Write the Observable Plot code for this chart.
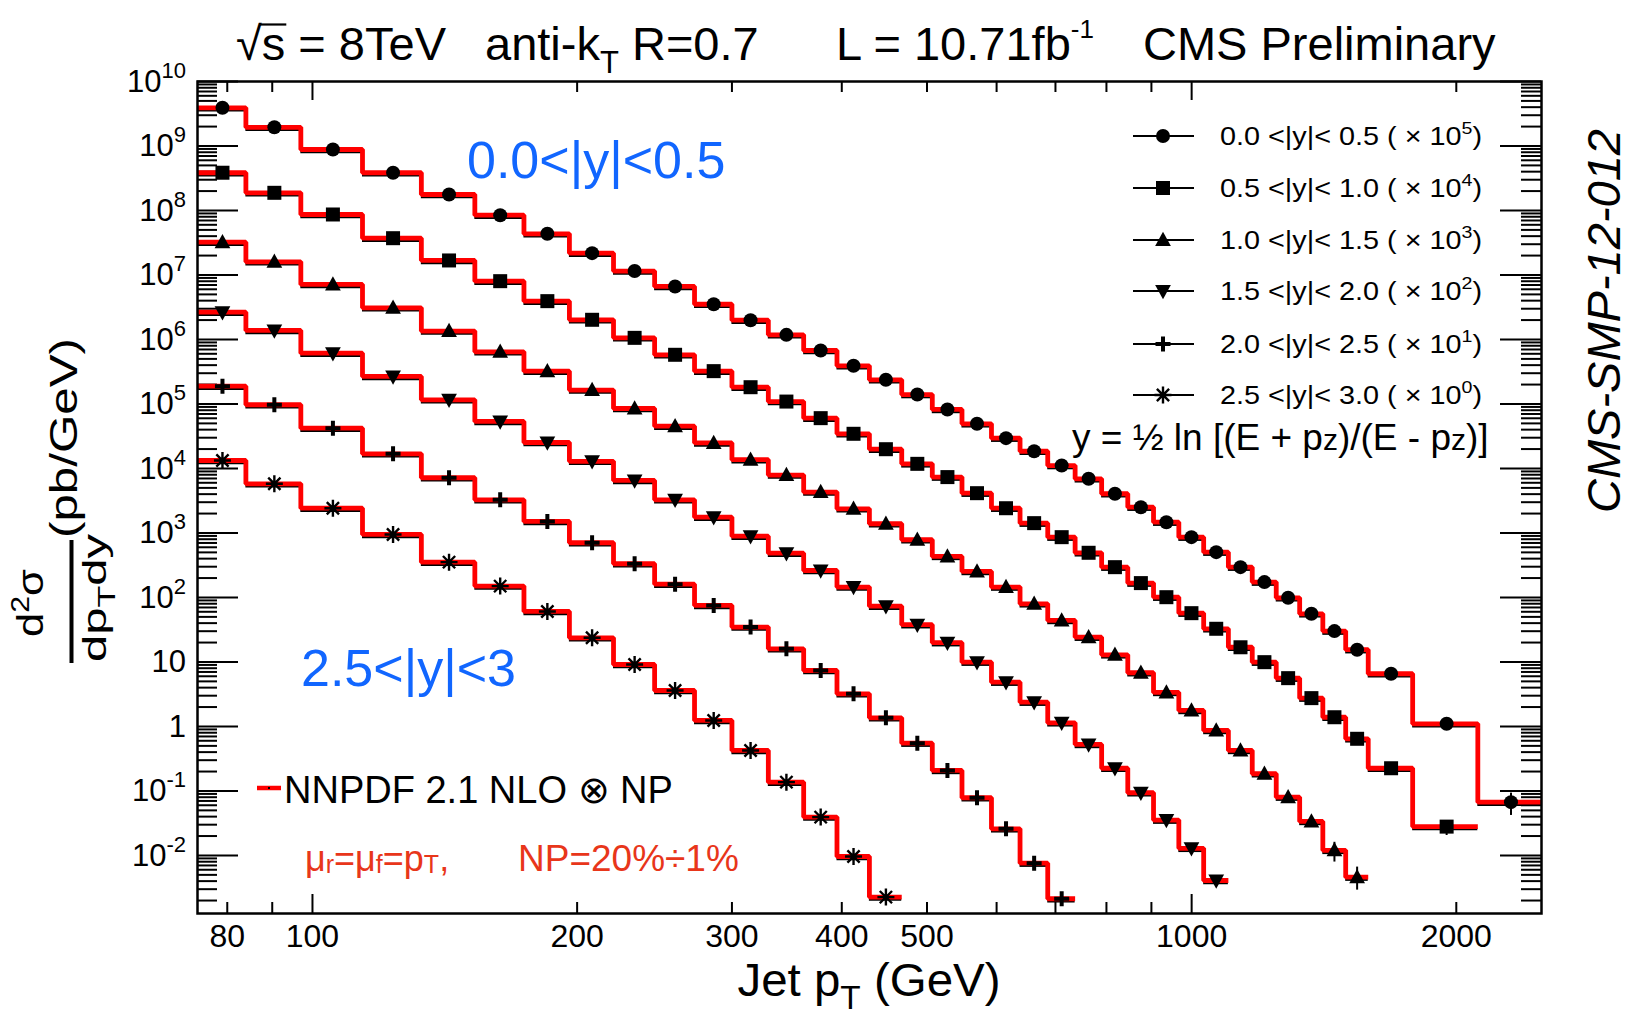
<!DOCTYPE html>
<html>
<head>
<meta charset="utf-8">
<script src="https://cdn.jsdelivr.net/npm/d3@7"></script>
<script src="https://cdn.jsdelivr.net/npm/@observablehq/plot@0.6"></script>
<style>
html,body{margin:0;padding:0;background:#fff;}
#chart{width:1645px;height:1025px;}
</style>
</head>
<body>
<div id="chart"></div>
<script>
// ---------------- data ----------------
const ptEdges = [74,84,97,114,133,153,174,196,220,245,272,300,330,362,395,430,468,507,548,592,638,686,737,790,846,905,967,1032,1101,1172,1248,1327,1410,1497,1588,1784,2116,2500];

const rapidityBins = ["0.0 <|y|< 0.5","0.5 <|y|< 1.0","1.0 <|y|< 1.5","1.5 <|y|< 2.0","2.0 <|y|< 2.5","2.5 <|y|< 3.0"];
const scaleExponents = [5,4,3,2,1,0];

const xsec_y00_05 = [3.91e9,1.95e9,8.83e8,3.85e8,1.77e8,8.45e7,4.35e7,2.18e7,1.15e7,6.64e6,
  3.52e6,1.99e6,1.18e6,6.75e5,3.91e5,2.37e5,1.40e5,8.22e4,4.93e4,2.95e4,
  1.85e4,1.11e4,6.92e3,4.06e3,2.51e3,1.47e3,861,504,295,173,
  98.9,55.8,30.1,15.5,6.56,1.10,0.067];
const xsec_y05_10 = [3.85e8,1.88e8,8.67e7,3.72e7,1.68e7,8.02e6,3.93e6,2.02e6,1.06e6,5.79e5,
  3.23e5,1.82e5,1.09e5,6.03e4,3.45e4,1.99e4,1.18e4,7.35e3,4.14e3,2.42e3,
  1.42e3,861,493,295,167,101,57.1,32.7,16.9,9.93,
  5.61,2.75,1.39,0.644,0.225,0.028];
const xsec_y10_15 = [3.23e7,1.60e7,7.13e6,3.10e6,1.35e6,6.44e5,3.23e5,1.64e5,8.51e4,4.53e4,
  2.49e4,1.37e4,7.89e3,4.30e3,2.37e3,1.39e3,785,433,253,145,
  79.8,44.0,24.2,12.9,6.81,3.37,1.77,0.867,0.425,0.185,
  0.0802,0.0337,0.0120,0.00461];
const xsec_y15_20 = [2.65e6,1.38e6,6.14e5,2.67e5,1.16e5,5.36e4,2.53e4,1.29e4,6.52e3,3.27e3,
  1.76e3,891,486,262,145,73.3,37.8,19.9,9.93,4.86,
  2.38,1.14,0.526,0.225,0.0938,0.0353,0.0129,0.00409];
const xsec_y20_25 = [1.89e5,9.73e4,4.22e4,1.69e4,7.18e3,3.27e3,1.51e3,705,333,161,
  75.2,34.7,16.0,7.38,3.21,1.36,0.551,0.208,0.0785,0.0259,
  0.0076,0.00213];
const xsec_y25_30 = [1.33e4,5.79e3,2.42e3,948,353,150,60.7,23.7,9.14,3.61,
  1.24,0.425,0.137,0.0393,0.00964,0.00226];

const errSeries = [0,1,2,2];
const errBin    = [36,35,32,33];
const errLow    = [0.0417,0.0204,0.0079,0.0029];
const errHigh   = [0.0925,0.034,0.016,0.0066];

const xTicksMajor = [100,1000];
const xTicksMinor = [80,90,200,300,400,500,600,700,800,900,2000];
const xTickLabels = [80,100,200,300,400,500,1000,2000];
const yLabelExponents = [-2,-1,0,1,2,3,4,5,6,7,8,9,10];

// ---------------- build tables ----------------
const xsecAll = [xsec_y00_05,xsec_y05_10,xsec_y10_15,xsec_y15_20,xsec_y20_25,xsec_y25_30];
const yMin = Math.pow(10,-2.9), yMax = 1e10;
const points = [], steps = [];
xsecAll.forEach((vals,s)=>vals.forEach((v,i)=>{
  const x1 = ptEdges[i], x2 = ptEdges[i+1];
  points.push({s,x1,x2,xc:(x1+x2)/2,y:v});
  steps.push({s,x:x1,y:v},{s,x:x2,y:v});
}));
const errs = errSeries.map((s,j)=>({x:(ptEdges[errBin[j]]+ptEdges[errBin[j]+1])/2, lo:errLow[j], hi:errHigh[j]}));
const yTicksMajor = yLabelExponents.map(e=>Math.pow(10,e));
const yTicksMinor = [];
for (let e=-3;e<10;e++) for (let k=2;k<10;k++){const v=k*Math.pow(10,e); if(v>yMin&&v<yMax) yTicksMinor.push(v);}

// ---------------- symbols ----------------
const rad = size => Math.sqrt(size/Math.PI);
const symSquare = {draw(c,size){const r=rad(size);c.moveTo(-r,-r);c.lineTo(r,-r);c.lineTo(r,r);c.lineTo(-r,r);c.closePath();}};
const symTriUp = {draw(c,size){const r=rad(size);c.moveTo(0,-r*1.1);c.lineTo(r*1.05,r*0.8);c.lineTo(-r*1.05,r*0.8);c.closePath();}};
const symTriDown = {draw(c,size){const r=rad(size);c.moveTo(0,r*1.1);c.lineTo(r*1.05,-r*0.8);c.lineTo(-r*1.05,-r*0.8);c.closePath();}};
const symPlus = {draw(c,size){const r=rad(size);c.moveTo(-r,0);c.lineTo(r,0);c.moveTo(0,-r);c.lineTo(0,r);}};
const symStar = {draw(c,size){const r=rad(size);const q=r*0.72;c.moveTo(-r,0);c.lineTo(r,0);c.moveTo(0,-r);c.lineTo(0,r);c.moveTo(-q,-q);c.lineTo(q,q);c.moveTo(-q,q);c.lineTo(q,-q);}};
const symCircle = {draw(c,size){const r=rad(size);c.moveTo(r,0);c.arc(0,0,r,0,2*Math.PI);}};
const markerStyles = [
  {symbol:symCircle, r:7, fill:"#000", stroke:"none", strokeWidth:0},
  {symbol:symSquare, r:7, fill:"#000", stroke:"none", strokeWidth:0},
  {symbol:symTriUp, r:7.5, fill:"#000", stroke:"none", strokeWidth:0},
  {symbol:symTriDown, r:7.5, fill:"#000", stroke:"none", strokeWidth:0},
  {symbol:symPlus, r:7.5, fill:"none", stroke:"#000", strokeWidth:4},
  {symbol:symStar, r:8.5, fill:"none", stroke:"#000", strokeWidth:2.4}
];

// ---------------- plot ----------------
const W=1645,H=1025,mL=197,mR=104,mT=81,mB=112;
const fW=W-mL-mR, fH=H-mT-mB;
const FONT = "'Liberation Sans', Arial, Helvetica, sans-serif";

const marks = [
  Plot.ruleX(xTicksMinor,{x:d=>d,insetTop:fH-11,stroke:"#000",strokeWidth:2}),
  Plot.ruleX(xTicksMajor,{x:d=>d,insetTop:fH-19,stroke:"#000",strokeWidth:2}),
  Plot.ruleX(xTicksMinor,{x:d=>d,insetBottom:fH-11,stroke:"#000",strokeWidth:2}),
  Plot.ruleX(xTicksMajor,{x:d=>d,insetBottom:fH-19,stroke:"#000",strokeWidth:2}),
  Plot.ruleY(yTicksMinor,{y:d=>d,insetRight:fW-20,stroke:"#000",strokeWidth:2}),
  Plot.ruleY(yTicksMajor,{y:d=>d,insetRight:fW-41,stroke:"#000",strokeWidth:2}),
  Plot.ruleY(yTicksMinor,{y:d=>d,insetLeft:fW-20,stroke:"#000",strokeWidth:2}),
  Plot.ruleY(yTicksMajor,{y:d=>d,insetLeft:fW-41,stroke:"#000",strokeWidth:2}),
  Plot.ruleY(points,{y:"y",x1:"x1",x2:"x2",stroke:"#000",strokeWidth:2.5,dy:2.5}),
  Plot.line(steps,{x:"x",y:"y",z:"s",stroke:"#ff0000",strokeWidth:4.8,strokeLinejoin:"miter",strokeLinecap:"butt"}),
  Plot.ruleX(errs,{x:"x",y1:"lo",y2:"hi",stroke:"#000",strokeWidth:2})
];
markerStyles.forEach((m,s)=>{
  marks.push(Plot.dot(points.filter(d=>d.s===s),{x:"xc",y:"y",symbol:m.symbol,r:m.r,fill:m.fill,stroke:m.stroke,strokeWidth:m.strokeWidth}));
});
marks.push(Plot.frame({stroke:"#000",strokeWidth:2.5}));
marks.push(Plot.text(xTickLabels,{x:d=>d,text:d=>String(d),frameAnchor:"bottom",lineAnchor:"bottom",dy:33,fontSize:32,fill:"#000"}));

const plot = Plot.plot({
  width:W,height:H,marginLeft:mL,marginRight:mR,marginTop:mT,marginBottom:mB,
  style:{fontFamily:FONT,background:"#fff",color:"#000"},
  x:{type:"log",domain:[74,2500],axis:null},
  y:{type:"log",domain:[yMin,yMax],axis:null},
  marks
});
document.getElementById("chart").appendChild(plot);

// ---------------- annotations ----------------
const svg = d3.select(plot);
const ys = plot.scale("y");
const g = svg.append("g").attr("font-family",FONT).attr("fill","#000").attr("text-anchor","start");

// y tick labels
yLabelExponents.forEach(e=>{
  const py = ys.apply(Math.pow(10,e));
  const t = g.append("text").attr("x",186).attr("y",py+11).attr("text-anchor","end").attr("font-size",31);
  if (e===0) t.text("1");
  else if (e===1) t.text("10");
  else { t.append("tspan").text("10"); t.append("tspan").attr("font-size",22).attr("dy",-14).text(String(e)); }
});

function txt(x,y,size,parts,opts={}){
  const t = g.append("text").attr("x",x).attr("y",y).attr("font-size",size).attr("text-anchor",opts.anchor||"start");
  if (opts.fill) t.attr("fill",opts.fill);
  if (opts.style) t.attr("font-style",opts.style);
  if (opts.transform) t.attr("transform",opts.transform);
  if (opts.len) t.attr("textLength",opts.len).attr("lengthAdjust","spacingAndGlyphs");
  parts.forEach(p=>{
    if (typeof p === "string") t.append("tspan").text(p);
    else { const s=t.append("tspan").text(p.t); if(p.size) s.attr("font-size",p.size); if(p.dy) s.attr("dy",p.dy); }
  });
  return t;
}
// title
const t1 = txt(236,60,47,["√","s = 8TeV"]);
{
  const node=t1.node();
  const w0=node.getSubStringLength(0,1), w1=node.getSubStringLength(1,1);
  g.append("line").attr("x1",236+w0-2).attr("x2",236+w0+w1+1).attr("y1",24.5).attr("y2",24.5).attr("stroke","#000").attr("stroke-width",2.2);
}
txt(485,60,47,["anti-k",{t:"T",size:31,dy:13},{t:" R=0.7",size:47,dy:-13}]);
txt(836,60,47,["L = 10.71fb",{t:"-1",size:26,dy:-22}]);
txt(1143,60,47,["CMS Preliminary"]);

// x axis title
txt(869,996,47,["Jet p",{t:"T",size:33,dy:13},{t:" (GeV)",size:47,dy:-13}],{anchor:"middle",len:263});

// y axis title
txt(0,0,38,["(pb/GeV)"],{anchor:"middle",transform:"translate(77,438) rotate(-90)",len:200});
txt(0,0,36,["d",{t:"2",size:25,dy:-14},{t:"σ",size:36,dy:14}],{anchor:"middle",transform:"translate(43,603) rotate(-90)",len:68});
txt(0,0,33,["dp",{t:"T",size:24,dy:9},{t:"dy",size:33,dy:-9}],{anchor:"middle",transform:"translate(106,598) rotate(-90)",len:128});
g.append("line").attr("x1",71.5).attr("x2",71.5).attr("y1",540).attr("y2",663).attr("stroke","#000").attr("stroke-width",4);

// right side label
txt(0,0,47,["CMS-SMP-12-012"],{anchor:"middle",style:"italic",transform:"translate(1620,321) rotate(-90)"});

// rapidity labels in blue
txt(467,178,52,["0.0<|y|<0.5"],{fill:"#1166ff"});
txt(301,686,52,["2.5<|y|<3"],{fill:"#1166ff"});

// legend
const legendRows = [136,188,240,291,344,395];
rapidityBins.forEach((lab,s)=>{
  const yy = legendRows[s];
  g.append("line").attr("x1",1133).attr("x2",1194).attr("y1",yy).attr("y2",yy).attr("stroke","#000").attr("stroke-width",2);
  const m = markerStyles[s];
  const p = d3.path(); m.symbol.draw(p, m.r*m.r*Math.PI);
  g.append("path").attr("d",p.toString()).attr("transform",`translate(1163,${yy})`)
    .attr("fill",m.fill).attr("stroke",m.stroke).attr("stroke-width",m.strokeWidth);
  txt(1220,yy+9,25,[lab+" ( × 10",{t:String(scaleExponents[s]),size:17,dy:-11},{t:")",size:25,dy:11}],{len:262});
});
txt(1072,450,37,["y = ½ ln [(E + p",{t:"z",size:30},")/(E - p",{t:"z",size:30},")]"]);

// theory legend
g.append("line").attr("x1",257).attr("x2",281).attr("y1",788).attr("y2",788).attr("stroke","#ff0000").attr("stroke-width",4.5);
g.append("rect").attr("x",268).attr("y",787).attr("width",2).attr("height",2).attr("fill","#000");
txt(284,803,38,["NNPDF 2.1 NLO ⊗ NP"]);
const RED2 = "#e8361a";
txt(305,871,36,["μ",{t:"r",size:25,dy:2},{t:"=μ",size:36,dy:-2},{t:"f",size:25,dy:2},{t:"=p",size:36,dy:-2},{t:"T",size:25,dy:2},{t:",",size:36,dy:-2}],{fill:RED2});
txt(518,871,37,["NP=20%÷1%"],{fill:RED2});
</script>
</body>
</html>
